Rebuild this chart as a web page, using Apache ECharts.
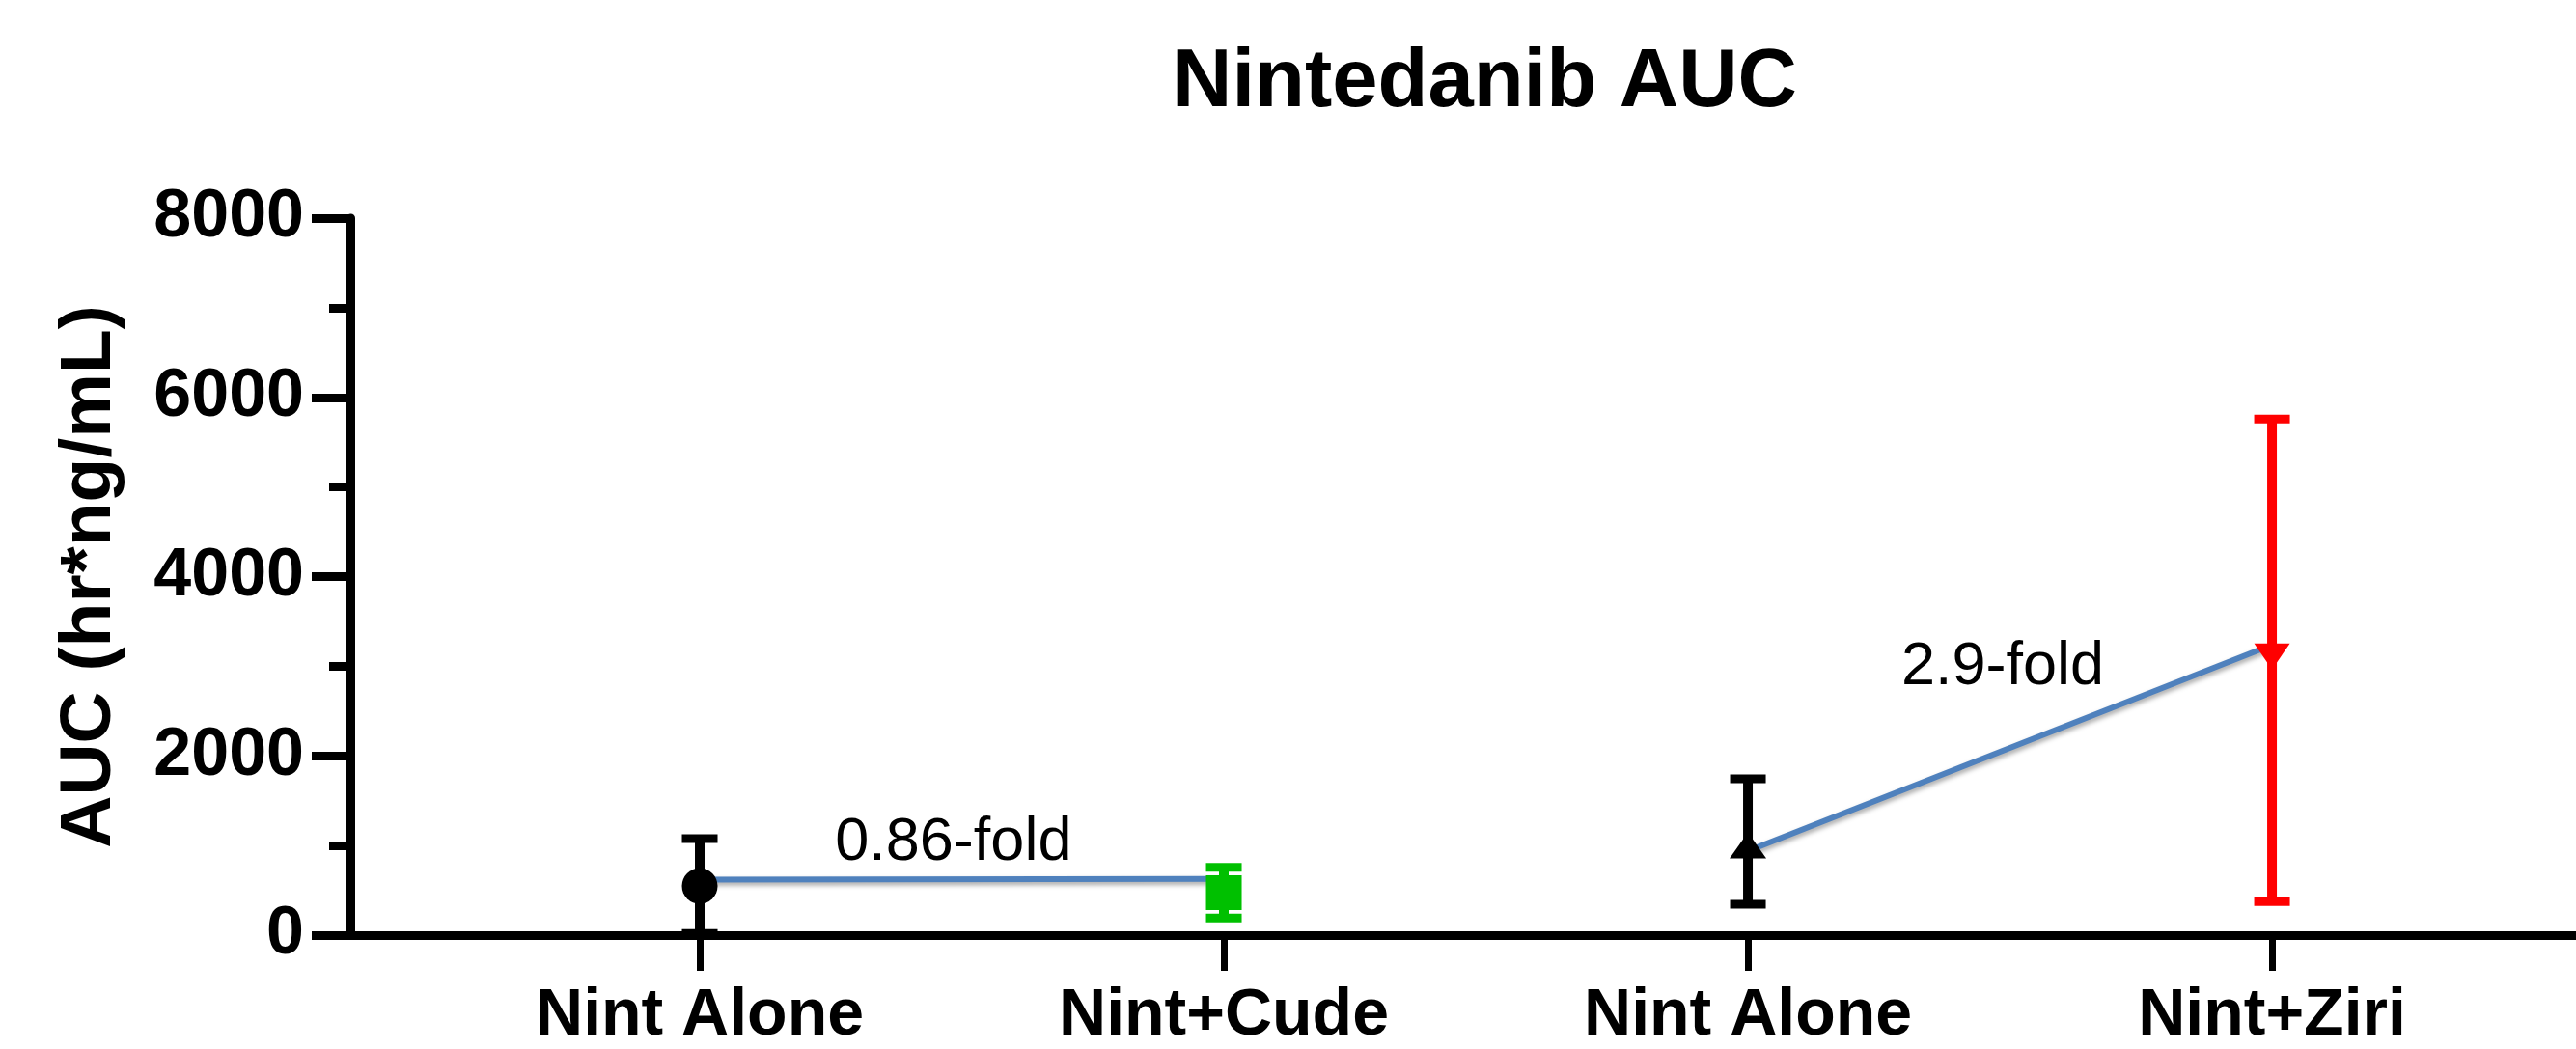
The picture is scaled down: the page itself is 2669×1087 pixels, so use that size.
<!DOCTYPE html>
<html>
<head>
<meta charset="utf-8">
<script src="https://cdn.jsdelivr.net/npm/echarts@6/dist/echarts.min.js"></script>
<style>
html,body{margin:0;padding:0;background:#ffffff;}
#chart{width:2669px;height:1087px;}
</style>
</head>
<body>
<div id="chart"></div>
<script>
// ---- data ----
const categories = ['Nint Alone', 'Nint+Cude', 'Nint Alone', 'Nint+Ziri'];
const categoryPos = [1, 2, 3, 4];
const means = [548, 474, 1044, 3065];
const sds = [530, 283, 700, 2692];
const foldLine1 = [[1, 619], [2, 628]];
const foldLine2 = [[3, 940], [4, 3238]];
const foldLabels = ['0.86-fold', '2.9-fold'];
const foldLabelX = [1.484, 3.486];
const foldLabelY = [1023, 2982];
const yMin = 0, yMax = 8000, yStep = 2000;

// ---- styles ----
const FONT = "'Liberation Sans', Arial, Helvetica, sans-serif";
const pointColors = ['#000000', '#00C000', '#000000', '#FF0000'];
const pointSymbols = ['circle', 'rect', 'triangle', 'triangle'];
const pointSizes = [[37, 37], [37, 36], [38, 27], [37, 27]];
const pointRotate = [0, 0, 0, 180];
const pointOffset = [[0, 0], [0, 0], [0, 4], [0, -4]];

const chart = echarts.init(document.getElementById('chart'), null, {renderer: 'canvas'});

const errData = categoryPos.map((x, i) => [x, means[i], sds[i], i]);
const pointData = categoryPos.map((x, i) => ({
  value: [x, means[i]],
  symbol: pointSymbols[i],
  symbolSize: pointSizes[i],
  symbolRotate: pointRotate[i],
  symbolOffset: pointOffset[i],
  itemStyle: {color: pointColors[i], opacity: 1}
}));
const labelData = foldLabels.map((t, i) => [foldLabelX[i], foldLabelY[i], t]);

const blueLine = {
  color: '#4F81BD', width: 6, opacity: 1,
  shadowColor: 'rgba(0,0,0,0.35)', shadowBlur: 5, shadowOffsetX: 1, shadowOffsetY: 3
};

const option = {
  backgroundColor: '#ffffff',
  animation: false,
  title: {
    text: 'Nintedanib AUC',
    left: 1215, top: 44, padding: 0,
    textStyle: {fontFamily: FONT, fontWeight: 'bold', fontSize: 85, color: '#000'}
  },
  grid: {left: 363, right: 0, top: 226, bottom: 118, containLabel: false},
  xAxis: {
    type: 'value', min: 1/3, max: 4.58,
    axisLine: {show: true, onZero: false, lineStyle: {color: '#000', width: 9}},
    axisTick: {show: true, customValues: categoryPos, length: 37, lineStyle: {color: '#000', width: 7}},
    axisLabel: {
      show: true, customValues: categoryPos, margin: 50,
      formatter: v => categories[Math.round(v) - 1] || '',
      fontFamily: FONT, fontWeight: 'bold', fontSize: 68, color: '#000'
    },
    splitLine: {show: false}
  },
  yAxis: {
    type: 'value', min: yMin, max: yMax, interval: yStep,
    name: 'AUC (hr*ng/mL)', nameLocation: 'middle', nameRotate: 90, nameGap: 232,
    nameTextStyle: {fontFamily: FONT, fontWeight: 'bold', fontSize: 75, color: '#000'},
    axisLine: {show: true, lineStyle: {color: '#000', width: 9}},
    axisTick: {show: true, length: 40, lineStyle: {color: '#000', width: 9}},
    minorTick: {show: true, splitNumber: 2, length: 22, lineStyle: {color: '#000', width: 9}},
    axisLabel: {
      margin: 48, formatter: v => String(v),
      fontFamily: FONT, fontWeight: 'bold', fontSize: 70, color: '#000'
    },
    splitLine: {show: false}
  },
  series: [
    {type: 'line', data: foldLine1, symbol: 'none', lineStyle: blueLine, z: 1, silent: true},
    {type: 'line', data: foldLine2, symbol: 'none', lineStyle: blueLine, z: 1, silent: true},
    {
      type: 'custom', z: 3, data: errData,
      renderItem: function (params, api) {
        const x = api.value(0), m = api.value(1), s = api.value(2), idx = api.value(3);
        const top = api.coord([x, m + s]);
        const bot = api.coord([x, m - s]);
        const col = pointColors[idx];
        const capW = 37, capH = 9;
        return {
          type: 'group',
          children: [
            {type: 'line', shape: {x1: top[0], y1: top[1], x2: bot[0], y2: bot[1]}, style: {stroke: col, lineWidth: 10}},
            {type: 'rect', shape: {x: top[0] - capW / 2, y: top[1] - capH / 2, width: capW, height: capH}, style: {fill: col}},
            {type: 'rect', shape: {x: bot[0] - capW / 2, y: bot[1] - capH / 2, width: capW, height: capH}, style: {fill: col}}
          ]
        };
      }
    },
    {type: 'scatter', z: 4, data: pointData, itemStyle: {opacity: 1}},
    {
      type: 'scatter', z: 5, data: labelData, symbolSize: 1,
      itemStyle: {color: 'rgba(0,0,0,0)', opacity: 1},
      label: {
        show: true, position: 'inside', formatter: p => p.value[2],
        fontFamily: FONT, fontSize: 63, color: '#000000', opacity: 1
      }
    }
  ]
};
chart.setOption(option);
</script>
</body>
</html>
